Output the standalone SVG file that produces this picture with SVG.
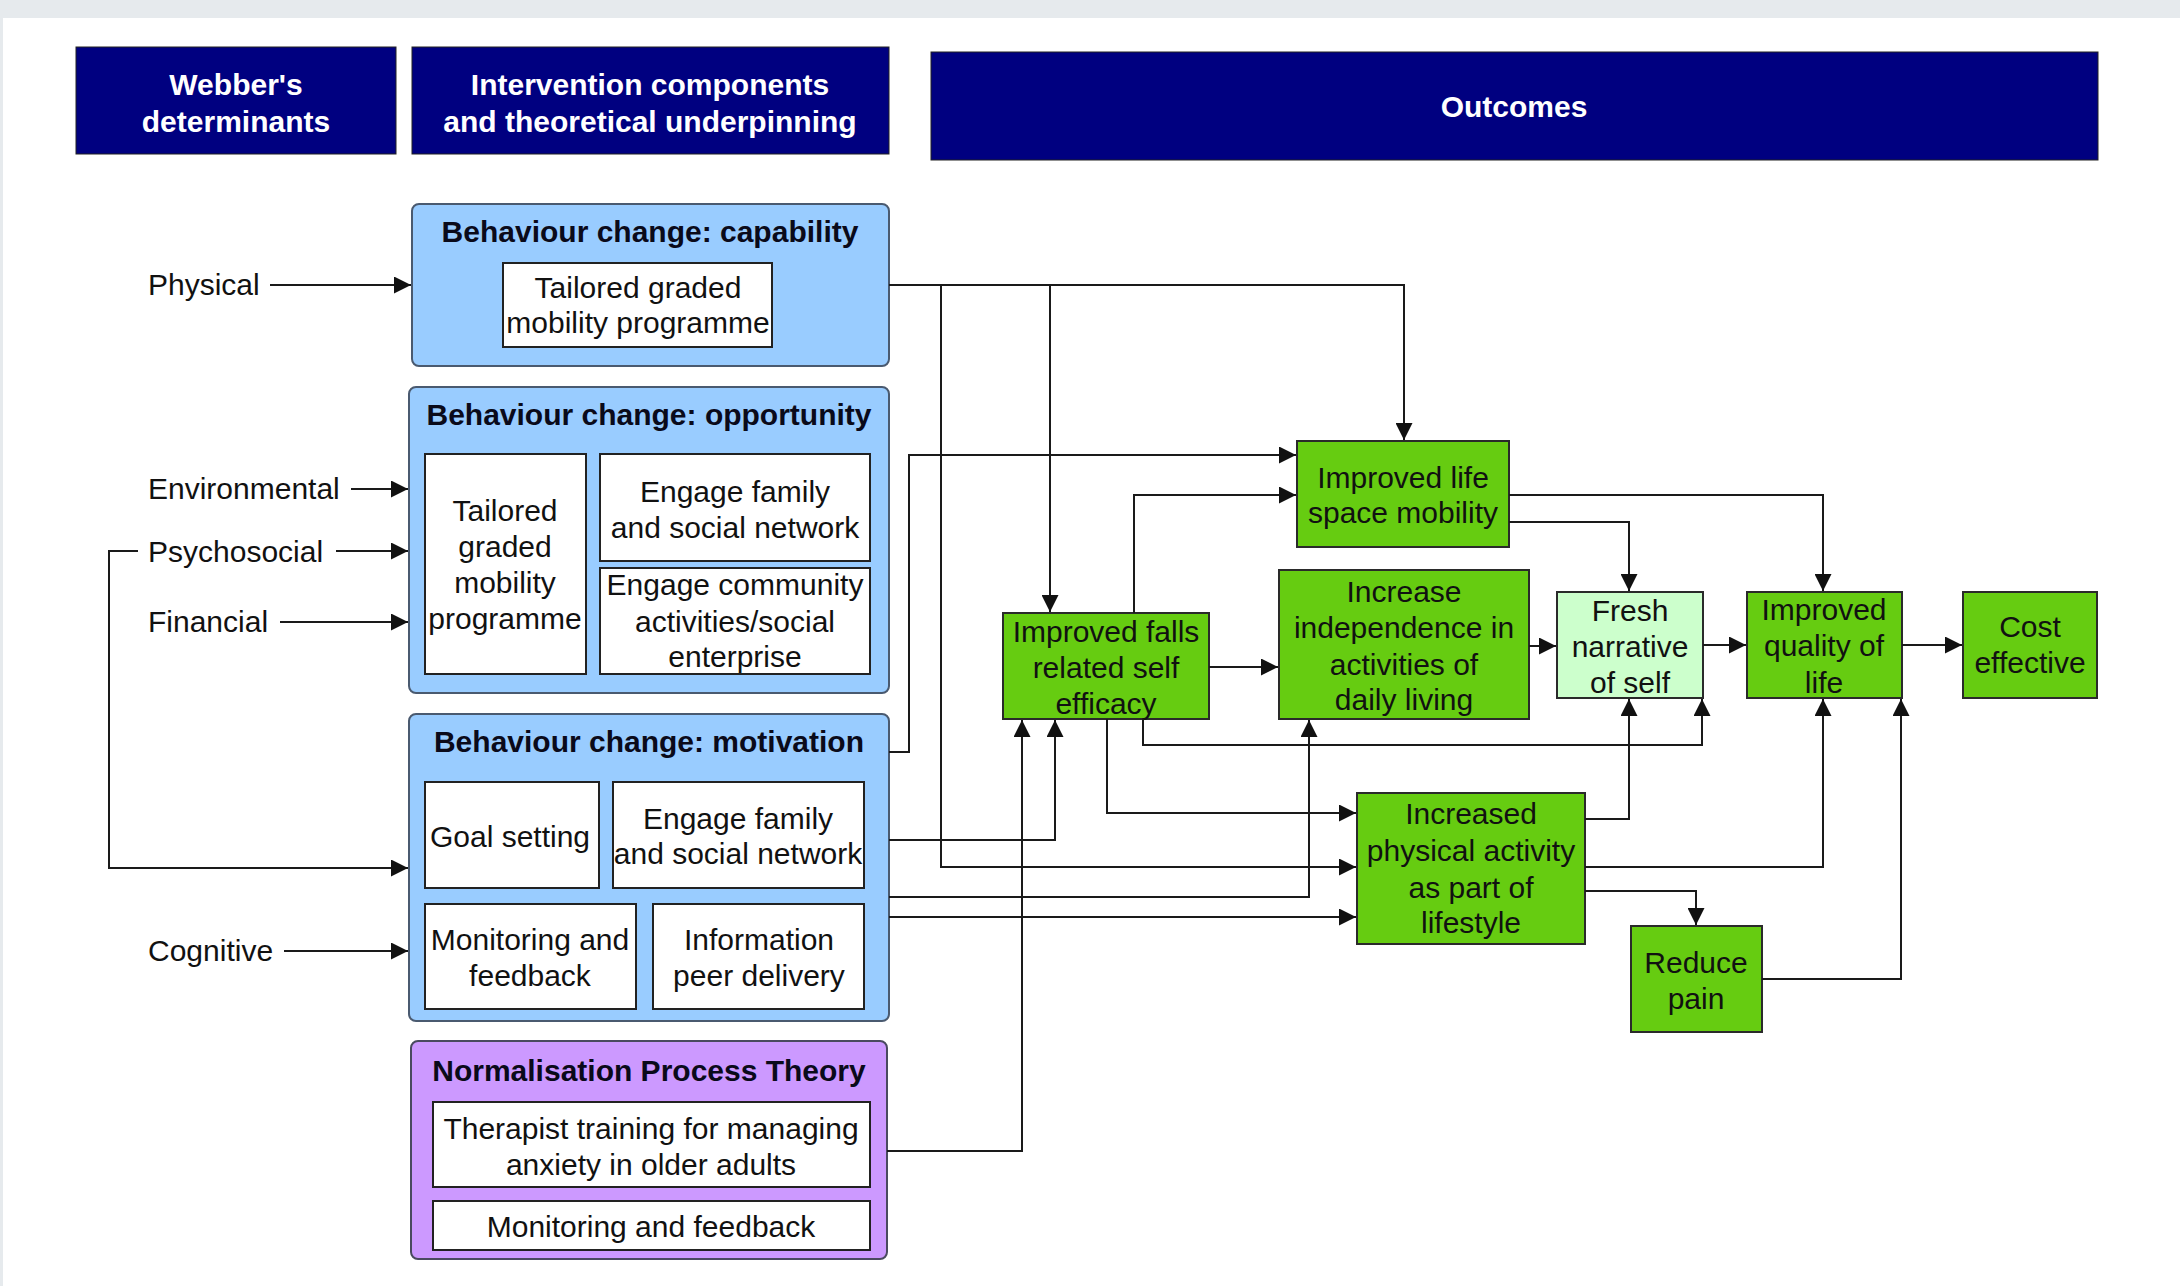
<svg xmlns="http://www.w3.org/2000/svg" width="2180" height="1286" viewBox="0 0 2180 1286">
<defs>
<marker id="arr" markerUnits="userSpaceOnUse" markerWidth="17" markerHeight="17" viewBox="0 0 16 16" refX="16" refY="8" orient="auto">
<path d="M0,0 L16,8 L0,16 z" fill="#111"/>
</marker>
</defs>
<style>
text{font-family:"Liberation Sans",Arial,sans-serif;font-size:30px;fill:#111;text-anchor:middle}
.hd rect{fill:#000080;stroke:#222;stroke-width:1}
.hd text{fill:#fff;font-weight:bold}
.grp{fill:#99ccff;stroke:#4a5a70;stroke-width:2}
.npt{fill:#cc99ff;stroke:#4a4a60;stroke-width:2}
.ttl{font-weight:bold;fill:#0a0a1a}
.in{fill:#fff;stroke:#222;stroke-width:2}
.g{fill:#66cc11;stroke:#2a2a2a;stroke-width:2}
.lg{fill:#ccffcc;stroke:#2a2a2a;stroke-width:2}
.lbl{text-anchor:start}
#connectors path{fill:none;stroke:#1a1a1a;stroke-width:2}
</style>
<rect x="0" y="0" width="2180" height="1286" fill="#fff"/>
<rect x="0" y="0" width="2180" height="18" fill="#e6eaed"/>
<rect x="0" y="18" width="3" height="1268" fill="#e6eaed"/>

<g id="hdr-webber" class="hd"><rect x="76" y="47" width="320" height="107"/><text x="236" y="95">Webber's</text><text x="236" y="132">determinants</text></g>
<g id="hdr-intervention" class="hd"><rect x="412" y="47" width="477" height="107"/><text x="650" y="95">Intervention components</text><text x="650" y="132">and theoretical underpinning</text></g>
<g id="hdr-outcomes" class="hd"><rect x="931" y="52" width="1167" height="108"/><text x="1514" y="117">Outcomes</text></g>

<g id="lbl-physical"><text class="lbl" x="148" y="295">Physical</text></g>
<g id="lbl-environmental"><text class="lbl" x="148" y="499">Environmental</text></g>
<g id="lbl-psychosocial"><text class="lbl" x="148" y="562">Psychosocial</text></g>
<g id="lbl-financial"><text class="lbl" x="148" y="632">Financial</text></g>
<g id="lbl-cognitive"><text class="lbl" x="148" y="961">Cognitive</text></g>

<g id="capability">
<rect class="grp" x="412" y="204" width="477" height="162" rx="7"/>
<text class="ttl" x="650" y="242">Behaviour change: capability</text>
<rect class="in" x="503" y="263" width="269" height="84"/>
<text x="638" y="298">Tailored graded</text><text x="638" y="333">mobility programme</text>
</g>

<g id="opportunity">
<rect class="grp" x="409" y="387" width="480" height="306" rx="7"/>
<text class="ttl" x="649" y="425">Behaviour change: opportunity</text>
<rect class="in" x="425" y="454" width="161" height="220"/>
<text x="505" y="521">Tailored</text><text x="505" y="557">graded</text><text x="505" y="593">mobility</text><text x="505" y="629">programme</text>
<rect class="in" x="600" y="454" width="270" height="107"/>
<text x="735" y="502">Engage family</text><text x="735" y="538">and social network</text>
<rect class="in" x="600" y="568" width="270" height="106"/>
<text x="735" y="595">Engage community</text><text x="735" y="632">activities/social</text><text x="735" y="667">enterprise</text>
</g>

<g id="motivation">
<rect class="grp" x="409" y="714" width="480" height="307" rx="7"/>
<text class="ttl" x="649" y="752">Behaviour change: motivation</text>
<rect class="in" x="425" y="782" width="174" height="106"/>
<text x="510" y="847">Goal setting</text>
<rect class="in" x="613" y="782" width="251" height="106"/>
<text x="738" y="829">Engage family</text><text x="738" y="864">and social network</text>
<rect class="in" x="425" y="904" width="211" height="105"/>
<text x="530" y="950">Monitoring and</text><text x="530" y="986">feedback</text>
<rect class="in" x="653" y="904" width="211" height="105"/>
<text x="759" y="950">Information</text><text x="759" y="986">peer delivery</text>
</g>

<g id="npt">
<rect class="npt" x="411" y="1041" width="476" height="218" rx="7"/>
<text class="ttl" x="649" y="1081">Normalisation Process Theory</text>
<rect class="in" x="433" y="1102" width="437" height="85"/>
<text x="651" y="1139">Therapist training for managing</text><text x="651" y="1175">anxiety in older adults</text>
<rect class="in" x="433" y="1201" width="437" height="49"/>
<text x="651" y="1237">Monitoring and feedback</text>
</g>

<g id="life-space"><rect class="g" x="1297" y="441" width="212" height="106"/><text x="1403" y="488">Improved life</text><text x="1403" y="523">space mobility</text></g>
<g id="falls-efficacy"><rect class="g" x="1003" y="613" width="206" height="106"/><text x="1106" y="642">Improved falls</text><text x="1106" y="678">related self</text><text x="1106" y="714">efficacy</text></g>
<g id="independence"><rect class="g" x="1279" y="570" width="250" height="149"/><text x="1404" y="602">Increase</text><text x="1404" y="638">independence in</text><text x="1404" y="675">activities of</text><text x="1404" y="710">daily living</text></g>
<g id="fresh-narrative"><rect class="lg" x="1557" y="592" width="146" height="106"/><text x="1630" y="621">Fresh</text><text x="1630" y="657">narrative</text><text x="1630" y="693">of self</text></g>
<g id="quality-of-life"><rect class="g" x="1747" y="592" width="155" height="106"/><text x="1824" y="620">Improved</text><text x="1824" y="656">quality of</text><text x="1824" y="693">life</text></g>
<g id="cost-effective"><rect class="g" x="1963" y="592" width="134" height="106"/><text x="2030" y="637">Cost</text><text x="2030" y="673">effective</text></g>
<g id="physical-activity"><rect class="g" x="1357" y="793" width="228" height="151"/><text x="1471" y="824">Increased</text><text x="1471" y="861">physical activity</text><text x="1471" y="898">as part of</text><text x="1471" y="933">lifestyle</text></g>
<g id="reduce-pain"><rect class="g" x="1631" y="926" width="131" height="106"/><text x="1696" y="973">Reduce</text><text x="1696" y="1009">pain</text></g>

<g id="connectors">
<path d="M270,285 H411" marker-end="url(#arr)"/>
<path d="M351,489 H408" marker-end="url(#arr)"/>
<path d="M336,551 H408" marker-end="url(#arr)"/>
<path d="M138,551 H109 V868 H408" marker-end="url(#arr)"/>
<path d="M280,622 H408" marker-end="url(#arr)"/>
<path d="M284,951 H408" marker-end="url(#arr)"/>
<path d="M889,285 H1404 V440" marker-end="url(#arr)"/>
<path d="M1050,285 V612" marker-end="url(#arr)"/>
<path d="M941,285 V867 H1356" marker-end="url(#arr)"/>
<path d="M889,752 H909 V455 H1296" marker-end="url(#arr)"/>
<path d="M889,840 H1055 V720" marker-end="url(#arr)"/>
<path d="M889,897 H1309 V720" marker-end="url(#arr)"/>
<path d="M889,917 H1356" marker-end="url(#arr)"/>
<path d="M887,1151 H1022 V720" marker-end="url(#arr)"/>
<path d="M1134,613 V495 H1296" marker-end="url(#arr)"/>
<path d="M1209,667 H1278" marker-end="url(#arr)"/>
<path d="M1143,719 V745 H1702 V699" marker-end="url(#arr)"/>
<path d="M1107,719 V813 H1356" marker-end="url(#arr)"/>
<path d="M1509,495 H1823 V591" marker-end="url(#arr)"/>
<path d="M1509,522 H1629 V591" marker-end="url(#arr)"/>
<path d="M1529,646 H1556" marker-end="url(#arr)"/>
<path d="M1703,645 H1746" marker-end="url(#arr)"/>
<path d="M1902,645 H1962" marker-end="url(#arr)"/>
<path d="M1585,819 H1629 V699" marker-end="url(#arr)"/>
<path d="M1585,867 H1823 V699" marker-end="url(#arr)"/>
<path d="M1585,891 H1696 V925" marker-end="url(#arr)"/>
<path d="M1762,979 H1901 V699" marker-end="url(#arr)"/>
</g>
</svg>
